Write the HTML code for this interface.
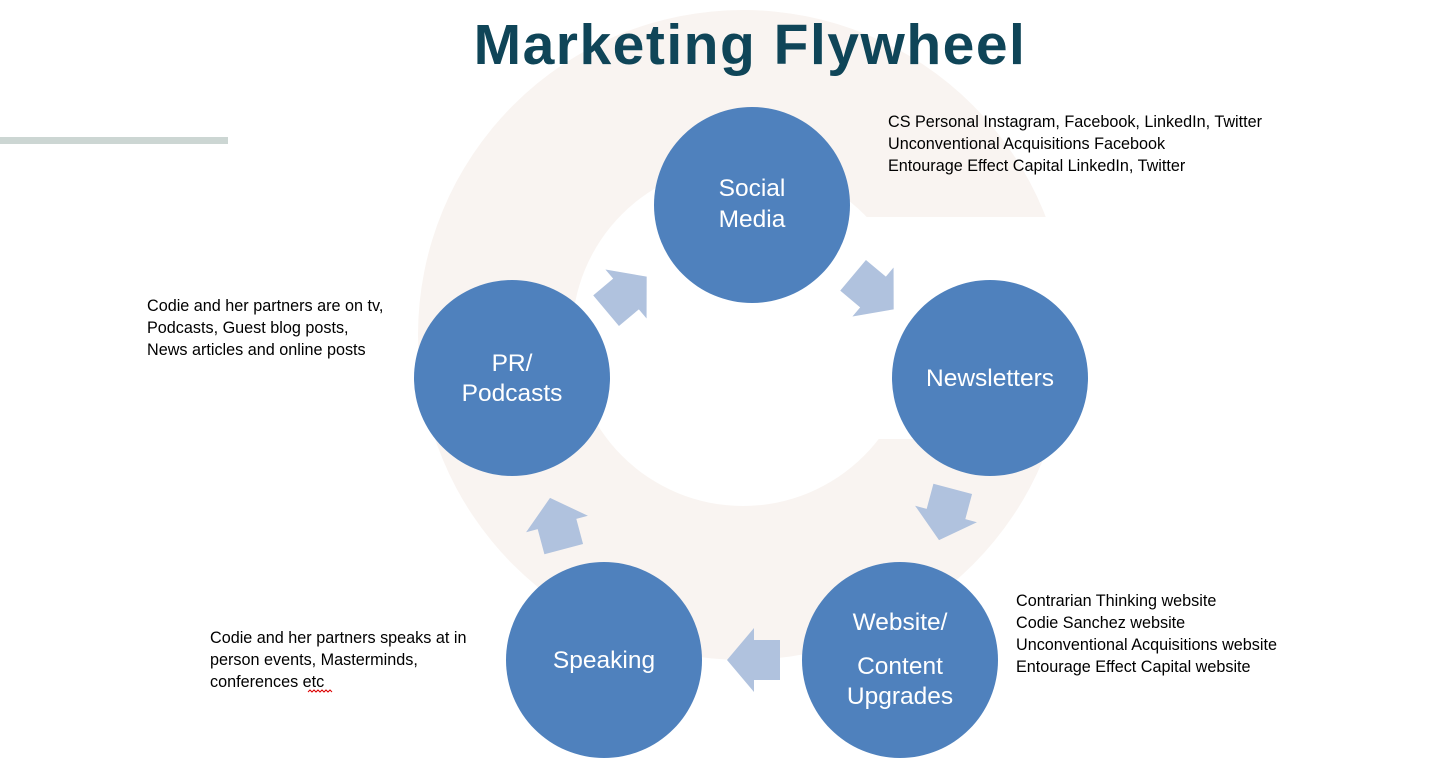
<!DOCTYPE html>
<html><head><meta charset="utf-8"><style>
html,body{margin:0;padding:0;background:#fff;}
svg{display:block;}
text{font-family:"Liberation Sans",sans-serif;}
</style></head><body>
<svg width="1456" height="781" viewBox="0 0 1456 781" xmlns="http://www.w3.org/2000/svg">
<defs>
<mask id="cm">
<rect x="0" y="0" width="1456" height="781" fill="white"/>
<circle cx="743" cy="335" r="171" fill="black"/>
<rect x="743" y="217" width="400" height="222" fill="black"/>
</mask>
<polygon id="arr" points="-26,-20 0,-20 0,-32 27,0 0,32 0,20 -26,20" fill="#b0c2de"/>
</defs>
<circle cx="743" cy="335" r="325" fill="#f9f4f1" mask="url(#cm)"/>
<rect x="0" y="137" width="228" height="7" fill="#ccd6d3"/>
<text x="750" y="64" text-anchor="middle" font-size="57" font-weight="bold" fill="#0f4558" letter-spacing="1.5">Marketing Flywheel</text>

<g fill="#4f81bd">
<circle cx="752" cy="205" r="98"/>
<circle cx="990" cy="378" r="98"/>
<circle cx="512" cy="378" r="98"/>
<circle cx="604" cy="660" r="98"/>
<circle cx="900" cy="660" r="98"/>
</g>

<use href="#arr" transform="translate(626,294) rotate(-40)"/>
<use href="#arr" transform="translate(873,292) rotate(40)"/>
<use href="#arr" transform="translate(946,514) rotate(105)"/>
<use href="#arr" transform="translate(754,660) rotate(180)"/>
<use href="#arr" transform="translate(557,524) rotate(-105)"/>

<g fill="#fff" font-size="24.5" text-anchor="middle">
<text x="752" y="196">Social</text>
<text x="752" y="227">Media</text>
<text x="990" y="386">Newsletters</text>
<text x="512" y="371">PR/</text>
<text x="512" y="401">Podcasts</text>
<text x="604" y="668">Speaking</text>
<text x="900" y="630">Website/</text>
<text x="900" y="674">Content</text>
<text x="900" y="704">Upgrades</text>
</g>

<g fill="#000" font-size="16.2">
<text x="888" y="127">CS Personal Instagram, Facebook, LinkedIn, Twitter</text>
<text x="888" y="149">Unconventional Acquisitions Facebook</text>
<text x="888" y="171">Entourage Effect Capital LinkedIn, Twitter</text>
<text x="147" y="311">Codie and her partners are on tv,</text>
<text x="147" y="333">Podcasts, Guest blog posts,</text>
<text x="147" y="355">News articles and online posts</text>
<text x="1016" y="606">Contrarian Thinking website</text>
<text x="1016" y="628">Codie Sanchez website</text>
<text x="1016" y="650">Unconventional Acquisitions website</text>
<text x="1016" y="672">Entourage Effect Capital website</text>
<text x="210" y="643">Codie and her partners speaks at in</text>
<text x="210" y="665">person events, Masterminds,</text>
<text x="210" y="687">conferences etc</text>
</g>
<path d="M308,692 l2,-2 l2,2 l2,-2 l2,2 l2,-2 l2,2 l2,-2 l2,2 l2,-2 l2,2 l2,-2 l2,2" stroke="#d00" stroke-width="1" fill="none"/>
</svg>
</body></html>
